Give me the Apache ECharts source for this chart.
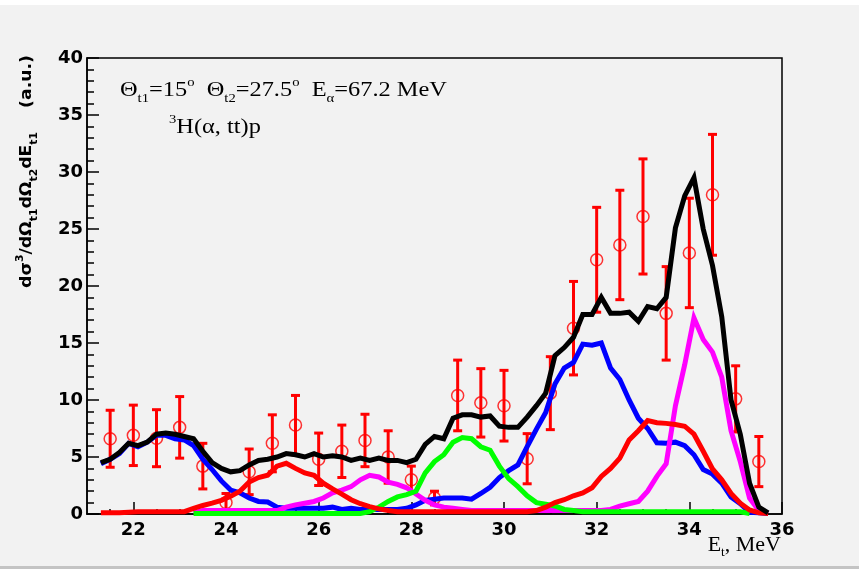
<!DOCTYPE html>
<html>
<head>
<meta charset="utf-8">
<script src="https://cdn.jsdelivr.net/npm/echarts@6/dist/echarts.min.js"></script>
<style>
html,body{margin:0;padding:0;background:#f2f2f2;}
#chart{width:859px;height:569px;}
</style>
</head>
<body>
<div id="chart"></div>
<script>
// Bin centres of the simulated spectra (MeV)
const energyGrid = [21.3,21.5,21.7,21.9,22.1,22.3,22.5,22.7,22.9,23.1,
  23.3,23.5,23.7,23.9,24.1,24.3,24.5,24.7,24.9,25.1,
  25.3,25.5,25.7,25.9,26.1,26.3,26.5,26.7,26.9,27.1,
  27.3,27.5,27.7,27.9,28.1,28.3,28.5,28.7,28.9,29.1,
  29.3,29.5,29.7,29.9,30.1,30.3,30.5,30.7,30.9,31.1,
  31.3,31.5,31.7,31.9,32.1,32.3,32.5,32.7,32.9,33.1,
  33.3,33.5,33.7,33.9,34.1,34.3,34.5,34.7,34.9,35.1,
  35.3,35.5,35.7];

// Total simulated spectrum (black)
const totalFit = [4.5,4.8,5.4,6.2,6.0,6.3,7.0,7.1,7.0,6.8,
  6.6,5.5,4.5,4.0,3.7,3.8,4.3,4.7,4.8,5.0,
  5.3,5.2,5.0,5.3,5.0,5.1,5.0,4.7,4.9,4.7,
  4.9,4.7,4.7,4.5,4.8,6.1,6.8,6.6,8.4,8.7,
  8.7,8.5,8.6,7.7,7.6,7.6,8.5,9.5,10.6,13.9,
  14.6,15.5,17.5,17.5,19.0,17.6,17.6,17.7,16.9,18.2,
  18.0,19.0,25.1,27.9,29.5,25.0,21.8,17.3,10.0,7.0,
  2.7,0.6,0.1];

// Partial contributions
const blueComp = [4.4,4.8,5.3,6.2,5.9,6.3,6.9,6.9,6.6,6.5,
  6.0,4.8,3.9,2.9,2.1,1.85,1.4,1.1,1.05,0.6,
  0.5,0.5,0.5,0.5,0.5,0.6,0.4,0.5,0.4,0.4,
  0.4,0.4,0.4,0.5,0.8,1.2,1.3,1.4,1.4,1.4,
  1.3,1.8,2.35,3.2,3.8,4.3,5.9,7.45,8.9,11.4,
  12.8,13.3,14.9,14.8,15.0,12.8,11.8,10.0,8.4,7.5,
  6.25,6.2,6.3,6.0,5.2,3.9,3.5,2.7,1.5,0.9,
  0.15,0.1,0.05];

const redComp = [0.1,0.1,0.1,0.15,0.2,0.2,0.2,0.2,0.2,0.2,
  0.5,0.75,0.95,1.2,1.55,2.0,2.8,3.2,3.4,4.2,
  4.45,4.0,3.6,3.4,2.7,2.2,1.75,1.25,0.9,0.65,
  0.45,0.3,0.2,0.2,0.2,0.2,0.2,0.2,0.2,0.2,
  0.2,0.2,0.2,0.2,0.2,0.2,0.2,0.3,0.6,1.0,
  1.25,1.6,1.85,2.3,3.3,4.0,4.9,6.5,7.3,8.2,
  8.0,7.95,7.85,7.7,7.0,5.5,3.95,3.0,1.8,0.95,
  0.35,0.1,0.05];

const magentaComp = [null,null,null,null,null,null,null,null,null,null,
  0.1,0.3,0.3,0.3,0.3,0.3,0.3,0.3,0.3,0.3,
  0.6,0.8,0.95,1.1,1.4,1.85,2.1,2.4,3.0,3.4,
  3.25,2.8,2.6,2.3,1.75,1.2,0.8,0.6,0.5,0.4,
  0.3,0.3,0.3,0.3,0.3,0.3,0.3,0.3,0.3,0.3,
  0.3,0.3,0.3,0.3,0.3,0.4,0.7,0.9,1.1,2.0,
  3.3,4.4,9.5,13.1,17.2,15.3,14.2,12.0,7.3,4.6,
  1.4,0.3,0.1];

const greenComp = [null,null,null,null,null,null,null,null,null,null,
  0.05,0.05,0.05,0.05,0.05,0.05,0.05,0.05,0.05,0.05,
  0.05,0.05,0.05,0.05,0.05,0.05,0.05,0.05,0.05,0.2,
  0.6,1.1,1.5,1.7,2.0,3.6,4.6,5.2,6.3,6.7,
  6.6,5.9,5.6,4.2,3.1,2.4,1.6,1.0,0.85,0.7,
  0.4,0.3,0.2,0.2,0.2,0.2,0.2,0.2,0.2,0.2,
  0.2,0.2,0.2,0.2,0.2,0.2,0.2,0.2,0.2,0.2,
  0.05,null,null];

// Measured cross section with uncertainties
const dataE = [21.5,22.0,22.5,23.0,23.5,24.0,24.5,25.0,25.5,26.0,
  26.5,27.0,27.5,28.0,28.5,29.0,29.5,30.0,30.5,31.0,
  31.5,32.0,32.5,33.0,33.5,34.0,34.5,35.0,35.5];
const dataY = [6.6,6.9,6.65,7.6,4.2,1.0,3.7,6.2,7.8,4.8,
  5.5,6.45,5.0,3.0,1.4,10.4,9.75,9.5,4.85,10.6,
  16.3,22.3,23.6,26.1,17.6,22.9,28.0,10.1,4.6];
const dataErr = [2.5,2.65,2.5,2.7,2.0,0.8,2.0,2.5,2.6,2.3,
  2.3,2.3,2.3,1.2,0.6,3.1,3.0,3.1,2.2,3.2,
  4.1,4.6,4.8,5.05,4.1,4.8,5.3,2.9,2.2];

// Axis tick positions
const xMajorTicks = [22,24,26,28,30,32,34,36];
const xMinorTicks = [21.5,22,22.5,23,23.5,24,24.5,25,25.5,26,26.5,27,27.5,28,28.5,
  29,29.5,30,30.5,31,31.5,32,32.5,33,33.5,34,34.5,35,35.5];

const pairs = ys => energyGrid.map((e, i) => [e, ys[i]]);

function curve(name, ys, color) {
  return {
    name, type: 'line', data: pairs(ys), showSymbol: false, symbol: 'none',
    clip: false, connectNulls: false, animation: false,
    lineStyle: { color, width: 5, join: 'miter' }, z: 3
  };
}

const chart = echarts.init(document.getElementById('chart'), null, { renderer: 'canvas' });

const serif = 'Liberation Serif, Times New Roman, serif';
const sans = 'DejaVu Sans, sans-serif';

chart.setOption({
  backgroundColor: '#f2f2f2',
  animation: false,
  grid: {
    left: 87, right: 77, top: 58, bottom: 55,
    show: true, borderColor: '#000', borderWidth: 1.5, backgroundColor: 'transparent'
  },
  xAxis: [{
    type: 'value', min: 21, max: 36,
    axisLine: { show: true, lineStyle: { color: '#000', width: 1.5 } },
    axisTick: { show: true, inside: true, length: 12, customValues: xMajorTicks,
      lineStyle: { color: '#000', width: 1.5 } },
    axisLabel: { customValues: xMajorTicks, margin: 7, color: '#000',
      fontFamily: sans, fontWeight: 'bold', fontSize: 18 },
    splitLine: { show: false }
  }, {
    type: 'value', min: 21, max: 36, position: 'bottom',
    axisLine: { show: false },
    axisTick: { show: true, inside: true, length: 5, customValues: xMinorTicks,
      lineStyle: { color: '#000', width: 1.5 } },
    axisLabel: { show: false },
    splitLine: { show: false }
  }],
  yAxis: {
    type: 'value', min: 0, max: 40, interval: 5,
    axisLine: { show: true, lineStyle: { color: '#000', width: 1.5 } },
    axisTick: { show: true, inside: true, length: 12, lineStyle: { color: '#000', width: 1.5 } },
    minorTick: { show: true, splitNumber: 5, length: 7, lineStyle: { color: '#000', width: 1.5 } },
    axisLabel: { margin: 4, color: '#000', fontFamily: sans, fontWeight: 'bold', fontSize: 18 },
    splitLine: { show: false }
  },
  series: [
    {
      name: 'errors', type: 'custom', z: 1,
      data: dataE.map((e, i) => [e, dataY[i], dataErr[i]]),
      clip: false,
      renderItem(params, api) {
        const x = api.value(0), y = api.value(1), err = api.value(2);
        const top = api.coord([x, y + err]);
        const bot = api.coord([x, y - err]);
        const cap = 4.5;
        const st = { stroke: '#ff0000', lineWidth: 3 };
        return {
          type: 'group',
          children: [
            { type: 'line', shape: { x1: top[0], y1: top[1], x2: bot[0], y2: bot[1] }, style: st },
            { type: 'line', shape: { x1: top[0] - cap, y1: top[1], x2: top[0] + cap, y2: top[1] }, style: st },
            { type: 'line', shape: { x1: bot[0] - cap, y1: bot[1], x2: bot[0] + cap, y2: bot[1] }, style: st }
          ]
        };
      }
    },
    {
      name: 'points', type: 'scatter', z: 2,
      data: dataE.map((e, i) => [e, dataY[i]]),
      symbol: 'circle', symbolSize: 12,
      itemStyle: { color: 'rgba(0,0,0,0)', borderColor: '#ff0000', borderWidth: 1.5 }
    },
    curve('blue', blueComp, '#0000ff'),
    curve('magenta', magentaComp, '#ff00ff'),
    curve('green', greenComp, '#00ff00'),
    curve('red', redComp, '#ff0000'),
    curve('total', totalFit, '#000000')
  ],
  graphic: [
    // page edges
    { type: 'rect', shape: { x: 0, y: 0, width: 859, height: 5 }, style: { fill: '#ffffff' }, z: 0 },
    { type: 'rect', shape: { x: 0, y: 566, width: 859, height: 3 }, style: { fill: '#c4c4c4' }, z: 0 },
    {
      type: 'text', x: 120, y: 91, scaleX: 1.22, z: 10,
      style: {
        text: '{m|Θ}{b|t1}{g|=}{m|15}{p|o}{m|  Θ}{b|t2}{g|=}{m|27.5}{p|o}{m|  E}{b|α}{g|=}{m|67.2 MeV}',
        verticalAlign: 'middle',
        rich: {
          m: { fontFamily: serif, fontSize: 20, lineHeight: 28, color: '#000', verticalAlign: 'middle' },
          g: { fontFamily: serif, fontSize: 20, lineHeight: 28, color: '#b5b5b5', verticalAlign: 'middle' },
          b: { fontFamily: serif, fontSize: 12, lineHeight: 12, color: '#000', verticalAlign: 'bottom' },
          p: { fontFamily: serif, fontSize: 12, lineHeight: 12, color: '#000', verticalAlign: 'top' }
        }
      }
    },
    {
      type: 'text', x: 169, y: 128, scaleX: 1.22, z: 10,
      style: {
        text: '{p|3}{m|H(α, tt)p}',
        verticalAlign: 'middle',
        rich: {
          m: { fontFamily: serif, fontSize: 20, lineHeight: 28, color: '#000', verticalAlign: 'middle' },
          p: { fontFamily: serif, fontSize: 12, lineHeight: 12, color: '#000', verticalAlign: 'top' }
        }
      }
    },
    {
      type: 'text', x: 27, y: 55, rotation: Math.PI / 2, scaleX: 1.08, z: 10,
      style: {
        text: '{m|dσ}{p|3}{m|/dΩ}{b|t1}{m|dΩ}{b|t2}{m|dE}{b|t1}{m|    (a.u.)}',
        align: 'right', verticalAlign: 'middle',
        rich: {
          m: { fontFamily: sans, fontWeight: 'bold', fontSize: 16, lineHeight: 24, color: '#000', verticalAlign: 'middle' },
          b: { fontFamily: sans, fontWeight: 'bold', fontSize: 10, lineHeight: 10, color: '#000', verticalAlign: 'bottom' },
          p: { fontFamily: sans, fontWeight: 'bold', fontSize: 10, lineHeight: 10, color: '#000', verticalAlign: 'top' }
        }
      }
    },
    {
      type: 'text', x: 781, y: 546, scaleX: 1.1, z: 10,
      style: {
        text: '{m|E}{b|t}{m|, MeV}',
        align: 'right', verticalAlign: 'middle',
        rich: {
          m: { fontFamily: serif, fontSize: 20, lineHeight: 26, color: '#000', verticalAlign: 'middle' },
          b: { fontFamily: serif, fontSize: 12, lineHeight: 12, color: '#000', verticalAlign: 'bottom' }
        }
      }
    }
  ]
});
</script>
</body>
</html>
